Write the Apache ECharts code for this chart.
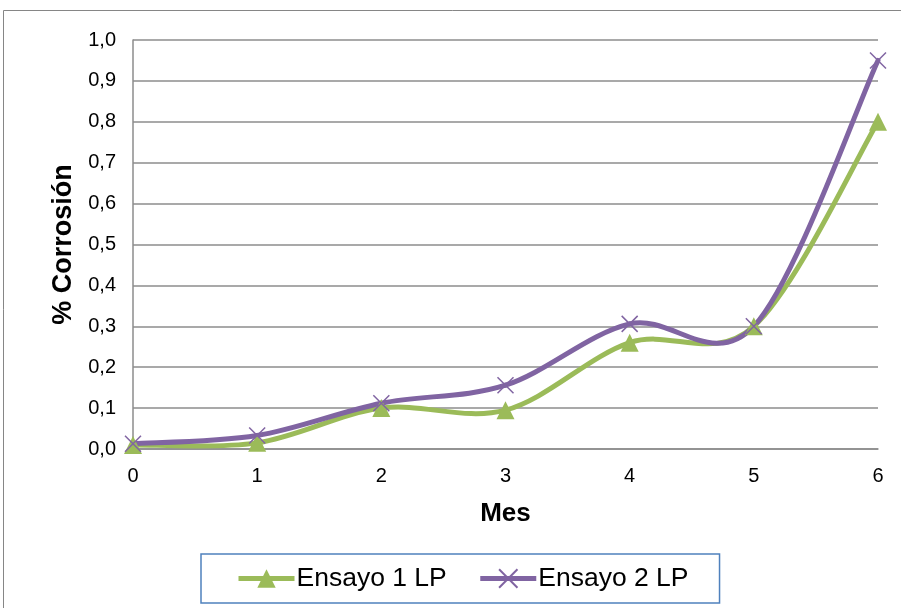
<!DOCTYPE html>
<html>
<head>
<meta charset="utf-8">
<script src="https://cdn.jsdelivr.net/npm/echarts@6/dist/echarts.min.js"></script>
<style>
  html, body { margin: 0; padding: 0; background: #fff; }
  #chart { width: 901px; height: 608px; }
</style>
</head>
<body>
<div id="chart"></div>
<script>
// Months of exposure and corrosion percentage per test
const months = ['0', '1', '2', '3', '4', '5', '6'];
const ensayo1 = [0.01, 0.015, 0.10, 0.095, 0.26, 0.30, 0.80];
const ensayo2 = [0.013, 0.033, 0.112, 0.156, 0.306, 0.30, 0.95];
const seriesNames = ['Ensayo 1 LP', 'Ensayo 2 LP'];

const GREEN = '#9BBB59';
const PURPLE = '#8064A2';
const GRID = '#8C8C8C';
const FONT = '"Liberation Sans", Arial, sans-serif';
const CROSS = 'path://M0,0L10,10M10,0L0,10';

// Smooth curve through every point of a series (Catmull-Rom as cubic Beziers),
// positioned through the chart's own axes.
function smoothCurve(values, color) {
  return function (params, api) {
    if (params.dataIndex !== 0) return null;
    const pts = values.map((v, i) => api.coord([i, v]));
    const n = pts.length;
    const children = [];
    for (let i = 0; i < n - 1; i++) {
      const p0 = pts[Math.max(i - 1, 0)];
      const p1 = pts[i];
      const p2 = pts[i + 1];
      const p3 = pts[Math.min(i + 2, n - 1)];
      children.push({
        type: 'bezierCurve',
        shape: {
          x1: p1[0], y1: p1[1],
          cpx1: p1[0] + (p2[0] - p0[0]) / 6, cpy1: p1[1] + (p2[1] - p0[1]) / 6,
          cpx2: p2[0] - (p3[0] - p1[0]) / 6, cpy2: p2[1] - (p3[1] - p1[1]) / 6,
          x2: p2[0], y2: p2[1]
        },
        style: { stroke: color, lineWidth: 5, fill: null, lineCap: 'round', lineJoin: 'round' }
      });
    }
    return { type: 'group', children };
  };
}

const chart = echarts.init(document.getElementById('chart'), null, { renderer: 'canvas' });

chart.setOption({
  backgroundColor: '#fff',
  animation: false,
  graphic: [{
    type: 'rect',
    shape: { x: 3.5, y: 10.5, width: 1000, height: 700 },
    style: { fill: 'none', stroke: '#868686', lineWidth: 1 },
    silent: true,
    z: -1
  }],
  grid: { left: 133, right: 23, top: 40, bottom: 159 },
  legend: {
    left: 201, top: 554,
    padding: [11, 31, 11, 35],
    itemGap: 31,
    itemWidth: 56, itemHeight: 23,
    borderColor: '#4F81BD', borderWidth: 1.5,
    textStyle: { fontFamily: FONT, fontSize: 26.5, color: '#000', padding: [0, 0, 0, -3] },
    data: [
      { name: seriesNames[0], lineStyle: { color: GREEN, width: 5, opacity: 1 } },
      { name: seriesNames[1], lineStyle: { color: PURPLE, width: 5, opacity: 1 } }
    ]
  },
  xAxis: {
    type: 'category',
    data: months,
    boundaryGap: false,
    name: 'Mes',
    nameLocation: 'middle',
    nameGap: 52,
    nameTextStyle: { fontFamily: FONT, fontSize: 26, fontWeight: 'bold', color: '#000' },
    axisLine: { lineStyle: { color: GRID, width: 1.5 } },
    axisTick: { show: false },
    axisLabel: { fontFamily: FONT, fontSize: 20, color: '#000', margin: 17 },
    splitLine: { show: false }
  },
  yAxis: {
    type: 'value',
    min: 0, max: 1, interval: 0.1,
    name: '% Corrosión',
    nameLocation: 'middle',
    nameGap: 56,
    nameTextStyle: { fontFamily: FONT, fontSize: 27, fontWeight: 'bold', color: '#000' },
    axisLine: { show: true, lineStyle: { color: GRID, width: 1.5 } },
    axisTick: { show: false },
    axisLabel: {
      fontFamily: FONT, fontSize: 20, color: '#000', margin: 17,
      formatter: v => v.toFixed(1).replace('.', ',')
    },
    splitLine: { lineStyle: { color: GRID, width: 1.5 } }
  },
  series: [
    {
      name: 'curva1',
      type: 'custom',
      data: ensayo1.map((v, i) => [i, v]),
      renderItem: smoothCurve(ensayo1, GREEN),
      silent: true,
      z: 2
    },
    {
      name: 'curva2',
      type: 'custom',
      data: ensayo2.map((v, i) => [i, v]),
      renderItem: smoothCurve(ensayo2, PURPLE),
      silent: true,
      z: 3
    },
    {
      name: seriesNames[0],
      type: 'line',
      data: ensayo1,
      symbol: 'triangle',
      symbolSize: 18,
      lineStyle: { color: GREEN, width: 5, opacity: 0 },
      itemStyle: { color: GREEN },
      z: 4
    },
    {
      name: seriesNames[1],
      type: 'line',
      data: ensayo2,
      symbol: CROSS,
      symbolSize: 16,
      showAllSymbol: true,
      lineStyle: { color: PURPLE, width: 5, opacity: 0 },
      itemStyle: { color: PURPLE, borderColor: PURPLE, borderWidth: 1.5 },
      z: 5
    }
  ]
});
</script>
</body>
</html>
